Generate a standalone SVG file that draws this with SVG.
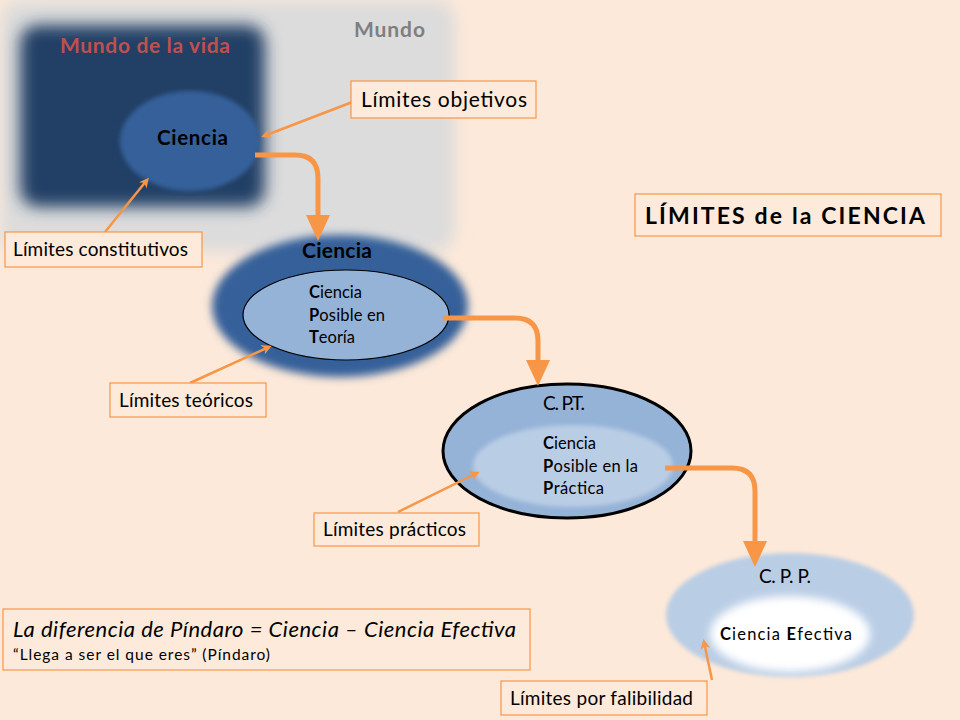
<svg xmlns="http://www.w3.org/2000/svg" width="960" height="720" viewBox="0 0 960 720">
<style>
text{font-family:Lato,"Liberation Sans",sans-serif;fill:#000}
.box{fill:#FDEADA;stroke:#F79646;stroke-width:1.2}
.thin{stroke:#F79646;stroke-width:2.5;fill:none;marker-end:url(#ah)}
.thick{stroke:#F79646;stroke-width:5;fill:none;marker-end:url(#AH)}
.in{font-size:16.5px}
</style>
<defs>
<filter id="b8" x="-20%" y="-20%" width="140%" height="140%"><feGaussianBlur stdDeviation="8"/></filter>
<filter id="b4" x="-20%" y="-20%" width="140%" height="140%"><feGaussianBlur stdDeviation="4"/></filter>
<filter id="b2" x="-20%" y="-20%" width="140%" height="140%"><feGaussianBlur stdDeviation="2"/></filter>
<marker id="ah" markerWidth="10" markerHeight="10" refX="7" refY="5" orient="auto" markerUnits="userSpaceOnUse" viewBox="0 0 10 10"><path d="M0,0 L10,5 L0,10 L3,5 Z" fill="#F79646"/></marker>
<marker id="AH" markerWidth="26" markerHeight="24" refX="20" refY="12" orient="auto" markerUnits="userSpaceOnUse" viewBox="0 0 26 24"><path d="M0,0 L26,12 L0,24 Z" fill="#F79646"/></marker>
</defs>
<rect width="960" height="720" fill="#FDE9D9"/>
<g id="mundo">
<rect x="0" y="0" width="455" height="252" rx="20" fill="#DCDCDC" filter="url(#b8)"/>
<text x="354" y="37" font-size="21" font-weight="bold" textLength="71" style="fill:#7F7F7F">Mundo</text>
</g>
<g id="mundo-vida">
<rect x="20" y="25" width="245" height="182" rx="18" fill="#243F66" filter="url(#b8)"/>
<text x="60" y="53" font-size="21" font-weight="bold" textLength="170" style="fill:#C0504D">Mundo de la vida</text>
</g>
<g id="ciencia1">
<ellipse cx="190" cy="141" rx="70" ry="50" fill="#36609A" filter="url(#b2)"/>
<text x="157" y="145" font-size="20.5" font-weight="bold" textLength="71">Ciencia</text>
</g>
<g id="ciencia2">
<ellipse cx="340" cy="306" rx="128" ry="71" fill="#36609A" filter="url(#b4)"/>
<text x="302" y="258" font-size="21" font-weight="bold" textLength="70">Ciencia</text>
<ellipse cx="346" cy="315" rx="103" ry="45" fill="#95B3D7" stroke="#000" stroke-width="1.2"/>
<text class="in" x="309" y="298" textLength="53"><tspan font-weight="bold">C</tspan>iencia</text>
<text class="in" x="309" y="321" textLength="76"><tspan font-weight="bold">P</tspan>osible en</text>
<text class="in" x="309" y="343" textLength="46"><tspan font-weight="bold">T</tspan>eoría</text>
</g>
<g id="cpt">
<ellipse cx="567" cy="451" rx="124" ry="67" fill="#95B3D7" stroke="#000" stroke-width="3"/>
<text x="543" y="410" font-size="19" textLength="42">C. P.T.</text>
<ellipse cx="573" cy="466" rx="100" ry="41" fill="#B9CDE5" filter="url(#b2)"/>
<text class="in" x="543" y="449" textLength="53"><tspan font-weight="bold">C</tspan>iencia</text>
<text class="in" x="543" y="472" textLength="95"><tspan font-weight="bold">P</tspan>osible en la</text>
<text class="in" x="543" y="494" textLength="61"><tspan font-weight="bold">P</tspan>ráctica</text>
</g>
<g id="cpp">
<ellipse cx="790" cy="615" rx="124" ry="62" fill="#B9CDE5" filter="url(#b2)"/>
<text x="759" y="583" font-size="19" textLength="52">C. P. P.</text>
<ellipse cx="790" cy="634" rx="80" ry="38" fill="#FFFFFF" filter="url(#b4)"/>
<text class="in" x="720" y="640" textLength="132"><tspan font-weight="bold">C</tspan>iencia <tspan font-weight="bold">E</tspan>fectiva</text>
</g>
<g id="connectors">
<path class="thick" d="M255,155 H295 Q318,155 318,178 V235"/>
<path class="thick" d="M443,318 H515 Q538,318 538,341 V380"/>
<path class="thick" d="M665,468 H732 Q755,468 755,491 V561"/>
<path class="thin" d="M355,101 L264,136"/>
<path class="thin" d="M105,232 L147,180"/>
<path class="thin" d="M190,383 L269,347"/>
<path class="thin" d="M398,512 L477,473"/>
<path class="thin" d="M712,680 L704,642"/>
</g>
<g id="lim-objetivos">
<rect class="box" x="351" y="81" width="185" height="37"/>
<text x="361" y="107" font-size="21" textLength="166">Límites objetivos</text>
</g>
<g id="lim-constitutivos">
<rect class="box" x="5" y="232" width="197" height="35"/>
<text x="13" y="256" font-size="19" textLength="175">Límites constitutivos</text>
</g>
<g id="titulo">
<rect class="box" x="635" y="194" width="306" height="42"/>
<text x="645" y="224" font-size="23" font-weight="bold" textLength="280">LÍMITES de la CIENCIA</text>
</g>
<g id="lim-teoricos">
<rect class="box" x="110" y="383" width="156" height="34"/>
<text x="119" y="407" font-size="19" textLength="134">Límites teóricos</text>
</g>
<g id="lim-practicos">
<rect class="box" x="314" y="513" width="165" height="33"/>
<text x="323" y="536" font-size="19" textLength="143">Límites prácticos</text>
</g>
<g id="pindaro">
<rect class="box" x="3" y="609" width="527" height="61"/>
<text x="13" y="637" font-size="22" font-style="italic" textLength="503">La diferencia de Píndaro = Ciencia – Ciencia Efectiva</text>
<text x="13" y="660" font-size="15.5" textLength="257">“Llega a ser el que eres” (Píndaro)</text>
</g>
<g id="lim-falibilidad">
<rect class="box" x="501" y="681" width="206" height="34"/>
<text x="510" y="705" font-size="19" textLength="183">Límites por falibilidad</text>
</g>
</svg>
